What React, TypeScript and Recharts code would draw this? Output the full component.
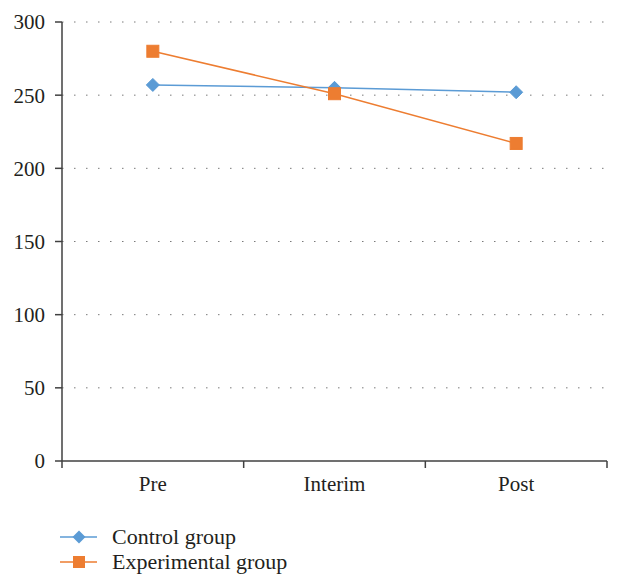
import { LineChart, Line, XAxis, YAxis, CartesianGrid } from 'recharts';

const phases = ['Pre', 'Interim', 'Post'];
const controlGroup = [257, 255, 252];
const experimentalGroup = [280, 251, 217];
const yTicks = [0, 50, 100, 150, 200, 250, 300];
const bandEdges = [0, 1, 2, 3];
const seriesNames = ['Control group', 'Experimental group'];

const BLUE = '#5B9BD5';
const ORANGE = '#ED7D31';
const AXIS = '#404040';
const TEXT = '#231f20';
const FONT = '"Liberation Serif", "Times New Roman", serif';

const data = phases.map((phase, i) => ({
  phase,
  idx: i + 0.5,
  control: controlGroup[i],
  experimental: experimentalGroup[i],
}));

function Diamond(props: any) {
  const { cx, cy } = props;
  if (cx == null || cy == null) return null;
  const r = 6.5;
  return (
    <polygon
      points={`${cx},${cy - r} ${cx + r},${cy} ${cx},${cy + r} ${cx - r},${cy}`}
      fill={BLUE}
      stroke={BLUE}
    />
  );
}

function Square(props: any) {
  const { cx, cy } = props;
  if (cx == null || cy == null) return null;
  const s = 6;
  return <rect x={cx - s} y={cy - s} width={s * 2} height={s * 2} fill={ORANGE} stroke={ORANGE} />;
}

// blank label: only the tick marks of the band edges are wanted
const NoLabel = () => <g />;

function LegendRow({ color, label, square }: { color: string; label: string; square?: boolean }) {
  return (
    <div style={{ display: 'flex', alignItems: 'center', height: 25 }}>
      <svg width={52} height={20} style={{ display: 'block' }}>
        <line x1={0} y1={10} x2={37} y2={10} stroke={color} strokeWidth={1.5} />
        {square ? (
          <rect x={13} y={4} width={12} height={12} fill={color} />
        ) : (
          <polygon points="19,3.5 25.5,10 19,16.5 12.5,10" fill={color} />
        )}
      </svg>
      <span style={{ fontFamily: FONT, fontSize: 22, color: TEXT }}>{label}</span>
    </div>
  );
}

export default function App() {
  return (
    <div style={{ position: 'absolute', left: 0, top: 0, width: 621, height: 588, background: '#fff' }}>
      <LineChart
        width={621}
        height={588}
        data={data}
        margin={{ top: 22, right: 14, left: 0, bottom: 87 }}
        style={{ fontFamily: FONT }}
      >
        <CartesianGrid
          xAxisId="a"
          horizontal
          vertical={false}
          stroke="#7a7a7a"
          strokeDasharray="1.5 10.5"
          horizontalValues={[50, 100, 150, 200, 250, 300]}
        />
        <XAxis
          xAxisId="b"
          dataKey="phase"
          scale="band"
          height={39}
          axisLine={false}
          tickLine={false}
          tickSize={5}
          tickMargin={9}
          tick={{ fontSize: 21, fill: TEXT, fontFamily: FONT }}
        />
        <XAxis
          xAxisId="a"
          dataKey="idx"
          type="number"
          domain={[0, 3]}
          ticks={bandEdges}
          allowDataOverflow
          height={1}
          tick={NoLabel}
          tickSize={7}
          axisLine={{ stroke: AXIS, strokeWidth: 1.5 }}
          tickLine={{ stroke: AXIS, strokeWidth: 1.5 }}
        />
        <YAxis
          width={62}
          domain={[0, 300]}
          ticks={yTicks}
          tickSize={7}
          tickMargin={10}
          axisLine={{ stroke: AXIS, strokeWidth: 1.5 }}
          tickLine={{ stroke: AXIS, strokeWidth: 1.5 }}
          tick={{ fontSize: 21, fill: TEXT, fontFamily: FONT }}
        />
        <Line
          xAxisId="b"
          dataKey="control"
          name={seriesNames[0]}
          stroke={BLUE}
          strokeWidth={1.5}
          dot={<Diamond />}
          activeDot={false}
          isAnimationActive={false}
        />
        <Line
          xAxisId="b"
          dataKey="experimental"
          name={seriesNames[1]}
          stroke={ORANGE}
          strokeWidth={1.5}
          dot={<Square />}
          activeDot={false}
          isAnimationActive={false}
        />
      </LineChart>
      <div style={{ position: 'absolute', left: 60, top: 524 }}>
        <LegendRow color={BLUE} label={seriesNames[0]} />
        <LegendRow color={ORANGE} label={seriesNames[1]} square />
      </div>
    </div>
  );
}
